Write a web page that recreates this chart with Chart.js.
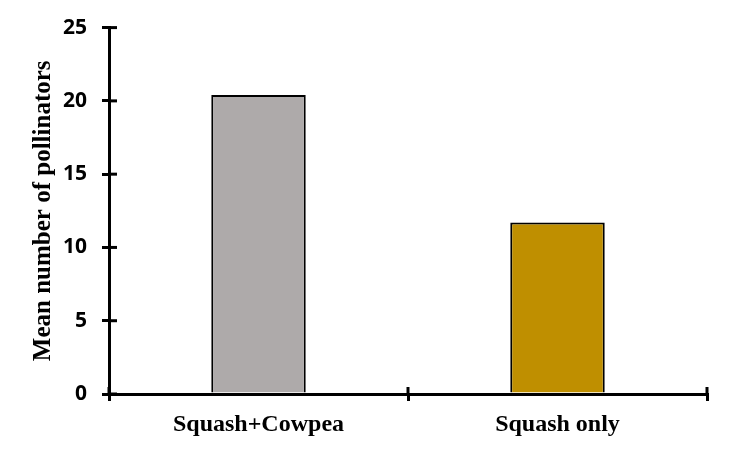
<!DOCTYPE html>
<html><head><meta charset="utf-8">
<script src="https://cdn.jsdelivr.net/npm/chart.js@4/dist/chart.umd.min.js"></script>
<style>html,body{margin:0;padding:0;background:#fff;}canvas{display:block;}</style>
</head><body>
<canvas id="c" width="730" height="450"></canvas>
<script>
const categories = ['Squash+Cowpea', 'Squash only'];
const meanPollinators = [20.4, 11.7];
const barColors = ['#AEAAAA', '#BF8F00'];
const yTicks = [0, 5, 10, 15, 20, 25];

const crossTicks = {
  id: 'crossTicks',
  afterDraw(chart) {
    const ctx = chart.ctx, x = chart.scales.x, y = chart.scales.y;
    ctx.save();
    ctx.strokeStyle = '#000'; ctx.lineWidth = 3; ctx.lineCap = 'butt';
    yTicks.forEach(v => {
      const py = y.getPixelForValue(v);
      ctx.beginPath(); ctx.moveTo(y.right, py); ctx.lineTo(y.right + 8, py); ctx.stroke();
    });
    const step = x.getPixelForValue(1) - x.getPixelForValue(0);
    for (let i = 0; i <= categories.length; i++) {
      const px = x.getPixelForValue(0) - step / 2 + i * step;
      ctx.beginPath(); ctx.moveTo(px, x.top); ctx.lineTo(px, x.top - 7); ctx.stroke();
    }
    ctx.restore();
  }
};

new Chart(document.getElementById('c'), {
  type: 'bar',
  data: {
    labels: categories,
    datasets: [{
      data: meanPollinators,
      backgroundColor: barColors,
      borderColor: '#000',
      borderWidth: 2,
      barPercentage: 0.316,
      categoryPercentage: 1.0
    }]
  },
  options: {
    responsive: false,
    animation: false,
    devicePixelRatio: 1,
    layout: { padding: { left: 0, right: 23, top: 25, bottom: 0 } },
    plugins: { legend: { display: false }, tooltip: { enabled: false } },
    scales: {
      y: {
        min: 0, max: 25,
        afterFit(s) { s.width = 109; },
        afterBuildTicks(s) { s.ticks = yTicks.map(v => ({ value: v })); },
        border: { display: true, color: '#000', width: 3 },
        grid: { display: true, drawOnChartArea: false, color: '#000', lineWidth: 3, tickLength: 7 },
        ticks: { color: '#000', padding: 15, font: { family: 'Open Sans', weight: 'bold', size: 21 } },
        title: {
          display: true, text: 'Mean number of pollinators', color: '#000',
          font: { family: 'Liberation Serif', weight: 'bold', size: 25 },
          padding: { top: 29, bottom: 0 }
        }
      },
      x: {
        afterFit(s) { s.height = 56; },
        border: { display: true, color: '#000', width: 3 },
        grid: { display: true, offset: true, drawOnChartArea: false, color: '#000', lineWidth: 3, tickLength: 7 },
        ticks: { color: '#000', padding: 9, font: { family: 'Liberation Serif', weight: 'bold', size: 24 } }
      }
    }
  },
  plugins: [crossTicks]
});
</script>
</body></html>
